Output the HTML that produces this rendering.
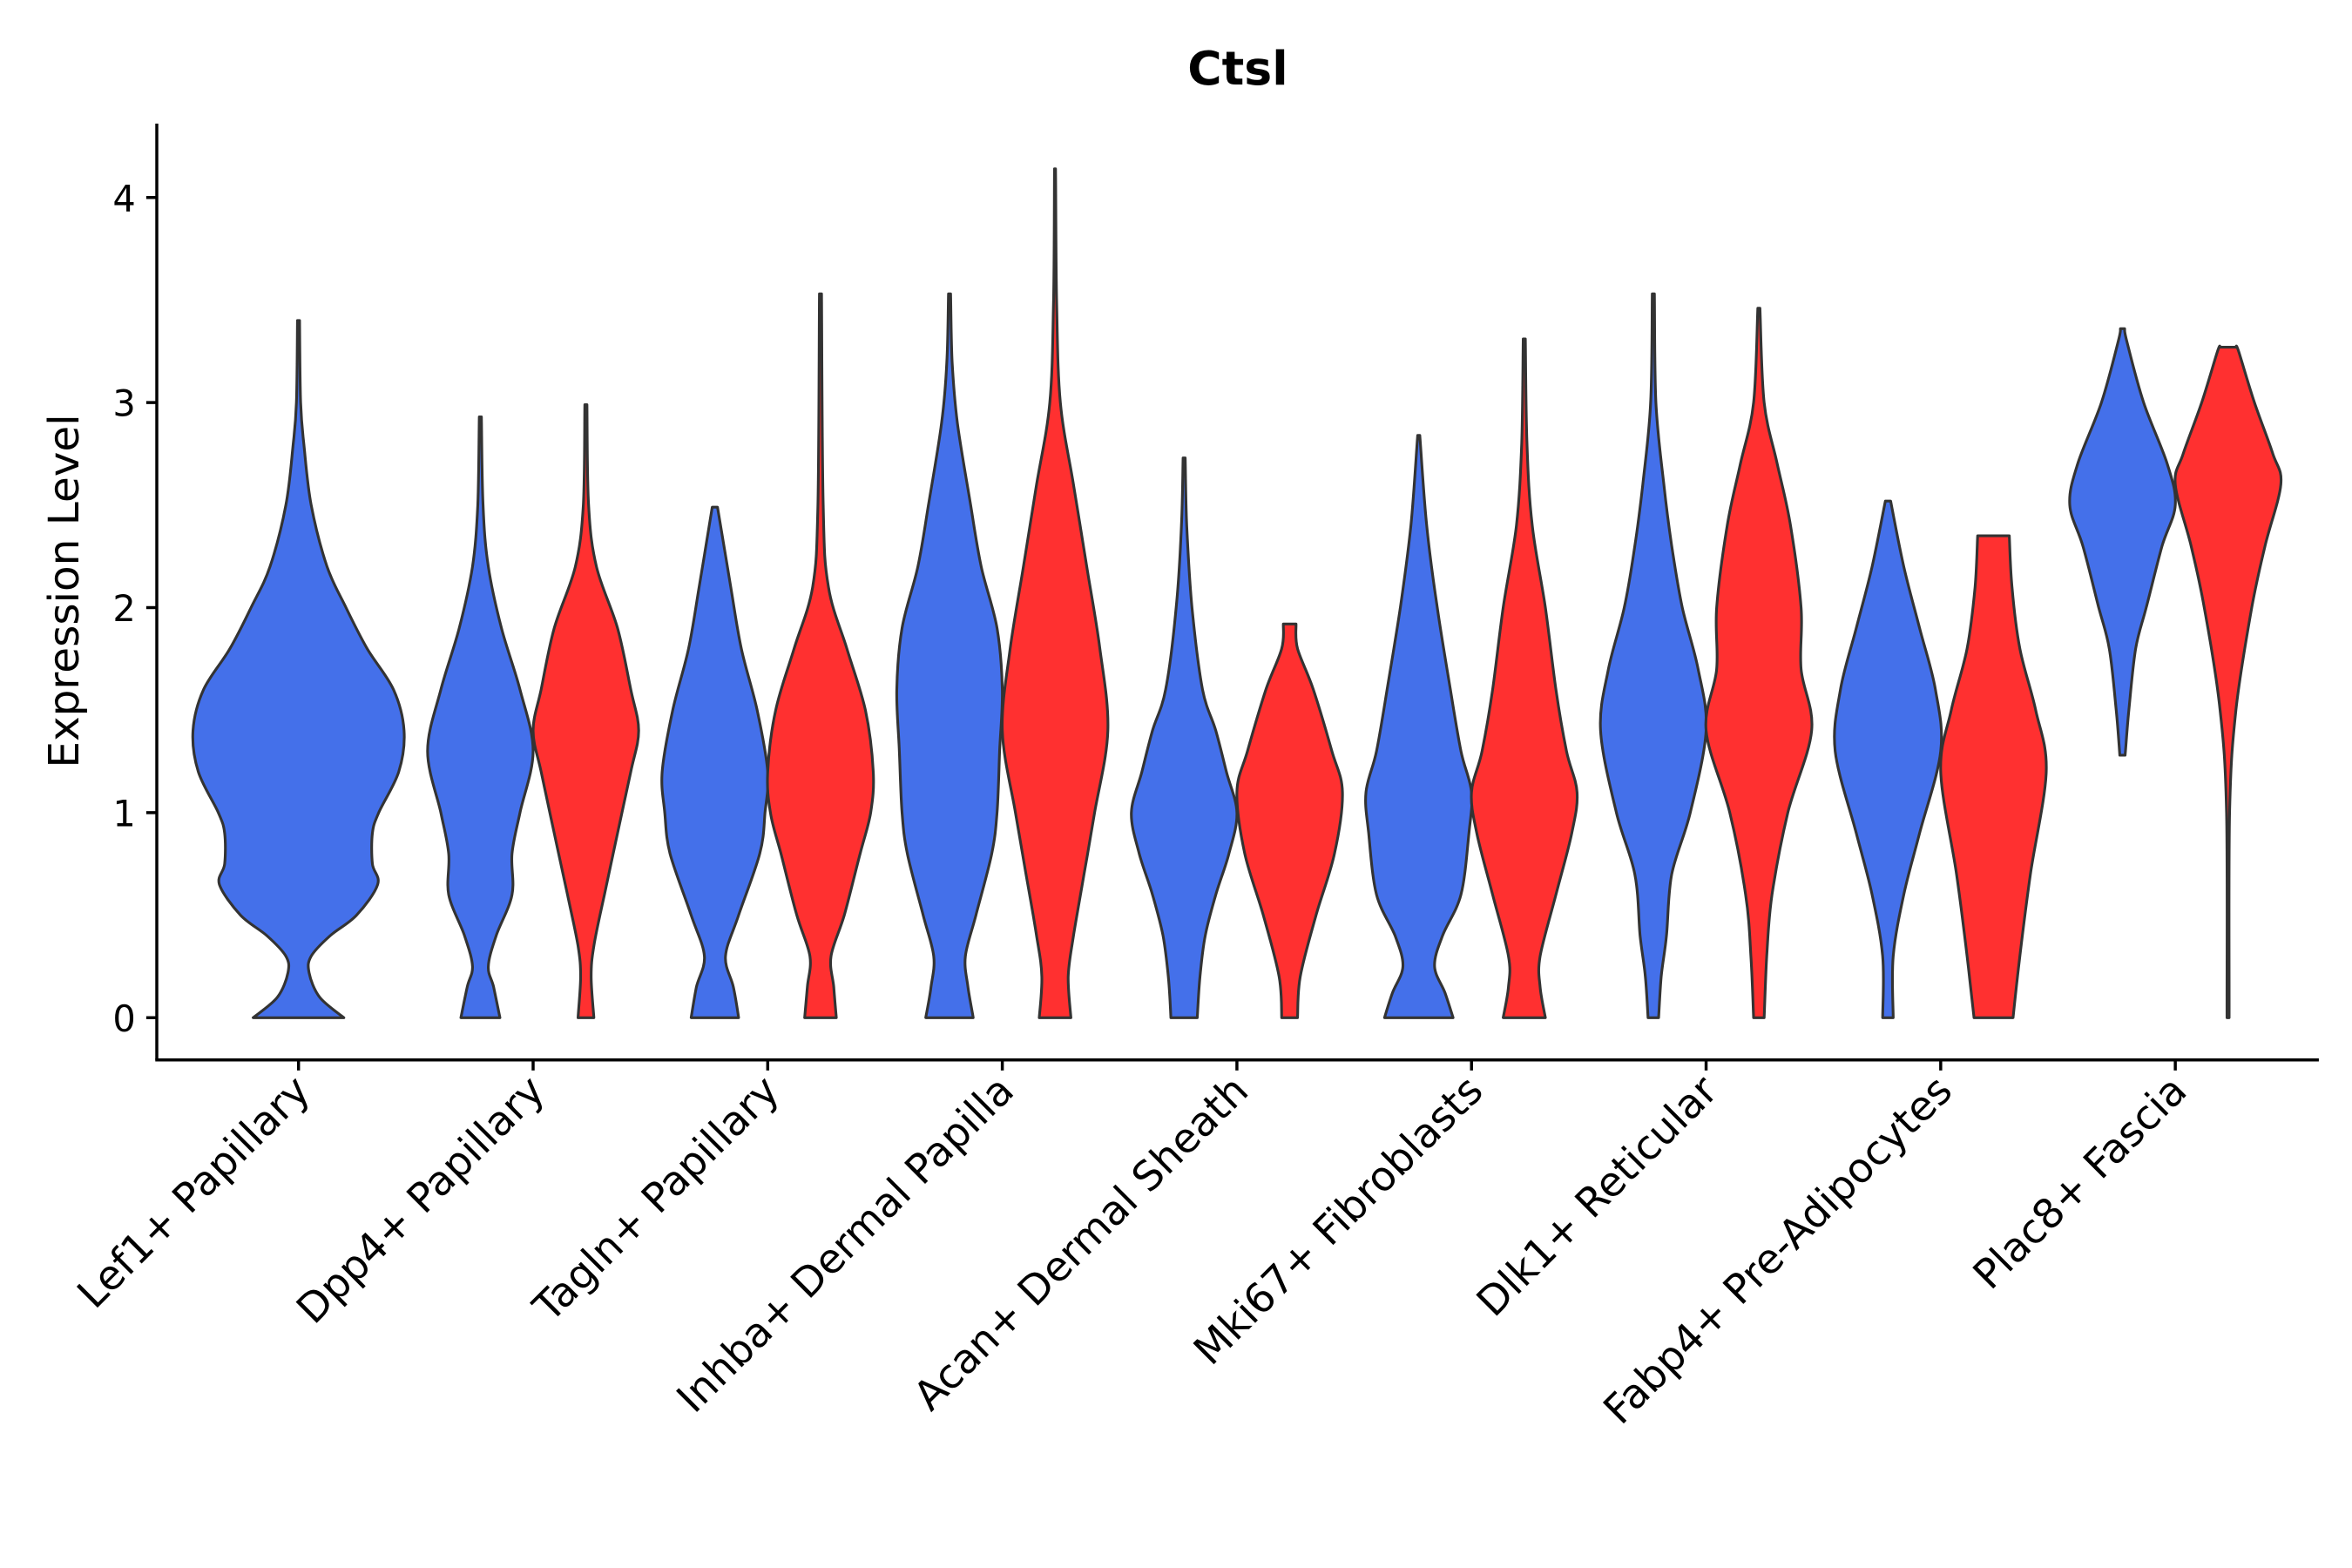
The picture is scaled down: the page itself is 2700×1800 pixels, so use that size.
<!DOCTYPE html>
<html><head><meta charset="utf-8"><style>html,body{margin:0;padding:0;background:#fff}svg{display:block}</style></head>
<body>
<svg id="chart" width="2700" height="1800" viewBox="0 0 1560 1040" xmlns="http://www.w3.org/2000/svg" font-family="'DejaVu Sans', 'Liberation Sans', sans-serif">
<text x="821" y="56" font-size="31" font-weight="bold" text-anchor="middle">Ctsl</text>
<text transform="translate(52,392) rotate(-90)" font-size="28" text-anchor="middle">Expression Level</text>
<g id="plot"></g>
</svg>
<script>
const categories = ["Lef1+ Papillary","Dpp4+ Papillary","Tagln+ Papillary","Inhba+ Dermal Papilla","Acan+ Dermal Sheath","Mki67+ Fibroblasts","Dlk1+ Reticular","Fabp4+ Pre-Adipocytes","Plac8+ Fascia"];
const yTicks = [0,1,2,3,4];
const violinGroups = [0,1,2,1,2,1,2,1,2,1,2,1,2,1,2,1,2];
const violinCats = [0,1,1,2,2,3,3,4,4,5,5,6,6,7,7,8,8];
const violinProfiles = [
 [[0,0.43],[0.1,0.2],[0.22,0.1],[0.3,0.12],[0.4,0.3],[0.5,0.55],[0.65,0.75],[0.75,0.7],[0.9,0.7],[1.0,0.76],[1.2,0.95],[1.4,1.0],[1.6,0.9],[1.8,0.65],[2.0,0.45],[2.2,0.27],[2.5,0.12],[2.8,0.05],[3.0,0.02],[3.4,0.01]],
 [[0,0.37],[0.15,0.25],[0.25,0.15],[0.4,0.3],[0.6,0.6],[0.8,0.6],[1.0,0.75],[1.3,1.0],[1.6,0.75],[1.9,0.4],[2.2,0.15],[2.5,0.05],[2.93,0.02]],
 [[0,0.15],[0.2,0.1],[0.35,0.15],[0.6,0.35],[0.9,0.6],[1.2,0.85],[1.4,1.0],[1.6,0.85],[1.9,0.6],[2.2,0.2],[2.5,0.05],[2.99,0.02]],
 [[0,0.45],[0.15,0.35],[0.3,0.2],[0.5,0.45],[0.8,0.85],[1.0,0.95],[1.2,1.0],[1.5,0.8],[1.8,0.5],[2.1,0.3],[2.49,0.05]],
 [[0,0.3],[0.15,0.25],[0.3,0.2],[0.5,0.45],[0.8,0.75],[1.0,0.95],[1.2,1.0],[1.5,0.85],[1.8,0.5],[2.1,0.15],[2.5,0.05],[3.53,0.02]],
 [[0,0.45],[0.15,0.35],[0.3,0.3],[0.5,0.5],[0.8,0.8],[1.0,0.9],[1.3,0.95],[1.6,1.0],[1.9,0.9],[2.2,0.6],[2.5,0.4],[2.9,0.15],[3.2,0.05],[3.53,0.02]],
 [[0,0.3],[0.2,0.25],[0.4,0.35],[0.7,0.55],[1.0,0.75],[1.4,1.0],[1.8,0.85],[2.2,0.6],[2.6,0.35],[3.0,0.1],[3.5,0.03],[4.14,0.01]],
 [[0,0.25],[0.2,0.3],[0.4,0.4],[0.6,0.6],[0.8,0.85],[1.0,1.0],[1.2,0.8],[1.4,0.6],[1.6,0.35],[2.0,0.15],[2.4,0.05],[2.73,0.02]],
 [[0,0.15],[0.2,0.2],[0.5,0.5],[0.8,0.85],[1.1,1.0],[1.3,0.8],[1.6,0.45],[1.8,0.15],[1.92,0.12]],
 [[0,0.65],[0.12,0.5],[0.25,0.3],[0.4,0.45],[0.6,0.8],[0.9,0.95],[1.1,1.0],[1.3,0.8],[1.6,0.6],[2.0,0.35],[2.4,0.15],[2.84,0.02]],
 [[0,0.4],[0.15,0.3],[0.3,0.3],[0.6,0.6],[0.9,0.9],[1.1,1.0],[1.3,0.8],[1.6,0.6],[2.0,0.4],[2.4,0.15],[2.8,0.05],[3.31,0.02]],
 [[0,0.1],[0.2,0.15],[0.4,0.25],[0.7,0.35],[1.0,0.7],[1.4,1.0],[1.7,0.85],[2.0,0.55],[2.3,0.35],[2.6,0.2],[3.0,0.05],[3.53,0.02]],
 [[0,0.1],[0.3,0.15],[0.6,0.25],[1.0,0.55],[1.4,1.0],[1.7,0.8],[2.0,0.8],[2.4,0.6],[2.7,0.35],[3.0,0.1],[3.46,0.02]],
 [[0,0.1],[0.3,0.1],[0.6,0.3],[0.9,0.6],[1.3,1.0],[1.6,0.9],[1.9,0.6],[2.2,0.3],[2.52,0.05]],
 [[0,0.37],[0.3,0.5],[0.7,0.7],[1.2,1.0],[1.5,0.8],[1.8,0.5],[2.1,0.35],[2.35,0.3]],
 [[1.28,0.05],[1.5,0.12],[1.8,0.25],[2.0,0.45],[2.3,0.75],[2.5,1.0],[2.7,0.85],[3.0,0.4],[3.3,0.08],[3.36,0.04]],
 [[0,0.02],[1.0,0.03],[1.5,0.15],[2.0,0.45],[2.3,0.7],[2.6,1.0],[2.75,0.85],[3.0,0.5],[3.25,0.2],[3.27,0.15]]
];
const NS="http://www.w3.org/2000/svg";
const plot=document.getElementById('plot');
const x0=104,x1=1538,yTop=82,yBot=703;
const y=v=>675-136*v;
const xc=i=>198+i*155.6;
const colors=["#4470EA","#4470EA","#FF3030"];
function mk(tag,attrs){const e=document.createElementNS(NS,tag);for(const k in attrs)e.setAttribute(k,attrs[k]);plot.appendChild(e);return e;}
function smooth(pts,start){
  let d=start?"M":"L";
  d+=pts[0][0].toFixed(1)+","+pts[0][1].toFixed(1);
  for(let i=0;i<pts.length-1;i++){
    const p0=pts[Math.max(0,i-1)],p1=pts[i],p2=pts[i+1],p3=pts[Math.min(pts.length-1,i+2)];
    const c1=[p1[0]+(p2[0]-p0[0])/6,p1[1]+(p2[1]-p0[1])/6];
    const c2=[p2[0]-(p3[0]-p1[0])/6,p2[1]-(p3[1]-p1[1])/6];
    d+=" C"+c1.map(v=>v.toFixed(1)).join(",")+" "+c2.map(v=>v.toFixed(1)).join(",")+" "+p2[0].toFixed(1)+","+p2[1].toFixed(1);
  }
  return d;
}
violinProfiles.forEach((prof,j)=>{
  const g=violinGroups[j];
  const cx=g===0?xc(violinCats[j]):xc(violinCats[j])+(g===1?-35:35);
  const hw=g===0?70:35;
  const right=prof.map(p=>[cx+p[1]*hw,y(p[0])]);
  const left=prof.slice().reverse().map(p=>[cx-p[1]*hw,y(p[0])]);
  const d=smooth(right,true)+" "+smooth(left,false)+" Z";
  const el=mk('path',{d:d,fill:colors[g],stroke:"#333",'stroke-width':1.8,'stroke-linejoin':'round'});
  
  
});
const ya=mk('line',{x1:x0,y1:yTop,x2:x0,y2:yBot,stroke:"#000",'stroke-width':2});


const xa=mk('line',{x1:x0-1,y1:yBot,x2:x1,y2:yBot,stroke:"#000",'stroke-width':2});


yTicks.forEach(t=>{
  const tk=mk('line',{x1:x0-7,y1:y(t),x2:x0,y2:y(t),stroke:"#000",'stroke-width':2});
  
  
  const tx=mk('text',{x:x0-14,y:y(t)+9,'font-size':24,'text-anchor':'end'});
  tx.textContent=t;
  
  
});
categories.forEach((c,i)=>{
  const tk=mk('line',{x1:xc(i),y1:yBot,x2:xc(i),y2:yBot+7,stroke:"#000",'stroke-width':2});
  
  
  const tx=mk('text',{transform:`translate(${xc(i)+9},${yBot+22}) rotate(-45)`,'font-size':27,'text-anchor':'end'});
  tx.textContent=c;
  
  
});
</script>
</body></html>
